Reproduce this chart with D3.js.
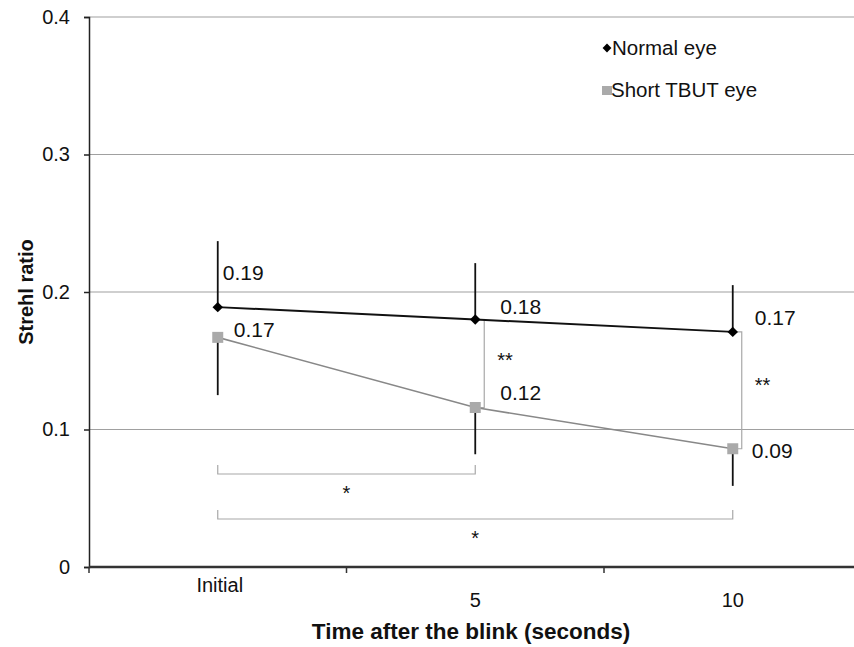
<!DOCTYPE html>
<html><head><meta charset="utf-8">
<script src="https://cdn.jsdelivr.net/npm/d3@7"></script>
<style>body{margin:0;background:#fff}svg{display:block}text{font-family:"Liberation Sans",Arial,sans-serif}</style>
</head><body>
<svg id="c" width="854" height="647"></svg>
<script>
const categories = ["Initial", "5", "10"];
const normalMean = [0.189, 0.180, 0.171];
const normalUpper = [0.237, 0.221, 0.205];
const shortMean = [0.167, 0.116, 0.086];
const shortLower = [0.125, 0.082, 0.059];
const normalLabels = ["0.19", "0.18", "0.17"];
const shortLabels = ["0.17", "0.12", "0.09"];
const yTicks = [0, 0.1, 0.2, 0.3, 0.4];

const svg = d3.select("#c");
const x = d3.scaleBand().domain(categories).range([89, 861.5]);
const y = d3.scaleLinear().domain([0, 0.4]).range([567, 17]);
const cx = d => x(d) + x.bandwidth() / 2;

// gridlines
svg.append("g").selectAll("line").data(yTicks.filter(t => t > 0)).join("line")
  .attr("x1", 89).attr("x2", 854).attr("y1", d => y(d)).attr("y2", d => y(d))
  .attr("stroke", "#a0a0a0").attr("stroke-width", 1.2);

// y axis
const ya = svg.append("g").attr("transform", "translate(89,0)")
  .call(d3.axisLeft(y).tickValues(yTicks).tickSize(5).tickPadding(14).tickFormat(d => d === 0 ? "0" : d3.format(".1f")(d)));
ya.select(".domain").attr("stroke", "#222").attr("stroke-width", 1.5);
ya.selectAll(".tick line").attr("stroke", "#222").attr("stroke-width", 1.5);
ya.selectAll("text").attr("font-size", 20).attr("fill", "#111");

// x axis
svg.append("line").attr("x1", 89).attr("x2", 854).attr("y1", y(0)).attr("y2", y(0))
  .attr("stroke", "#333").attr("stroke-width", 2.5);
svg.append("g").selectAll("line").data(categories).join("line")
  .attr("x1", d => x(d)).attr("x2", d => x(d)).attr("y1", y(0)).attr("y2", y(0) + 6)
  .attr("stroke", "#333").attr("stroke-width", 1.5);
svg.append("g").selectAll("text").data(categories).join("text")
  .attr("x", d => cx(d) + (d === "Initial" ? 2 : 0))
  .attr("y", d => d === "Initial" ? 592 : 607)
  .attr("text-anchor", "middle").attr("font-size", 20).attr("fill", "#111")
  .text(d => d);

// titles
svg.append("text").attr("x", 471).attr("y", 639).attr("text-anchor", "middle")
  .attr("font-size", 22.5).attr("font-weight", "bold").attr("fill", "#111")
  .text("Time after the blink (seconds)");
svg.append("text").attr("transform", "translate(33,292) rotate(-90)").attr("text-anchor", "middle")
  .attr("font-size", 20).attr("font-weight", "bold").attr("fill", "#111")
  .text("Strehl ratio");

// significance brackets (vertical)
const br = svg.append("g").attr("fill", "none").attr("stroke", "#a8a8a8").attr("stroke-width", 1.2);
const starY = [0, 365, 390];
[1, 2].forEach(i => {
  const xx = cx(categories[i]) + 9;
  br.append("path").attr("d", `M${cx(categories[i])},${y(normalMean[i])}H${xx}V${y(shortMean[i])}H${cx(categories[i])}`);
  svg.append("text").attr("x", xx + 13).attr("y", starY[i] + 2)
    .attr("font-size", 20).attr("fill", "#111").text("**");
});
// horizontal brackets
const hb = [[0, 1, 474], [0, 2, 519]];
hb.forEach(([a, b, yy]) => {
  br.append("path").attr("d", `M${cx(categories[a])},${yy - 9}V${yy}H${cx(categories[b])}V${yy - 9}`);
  svg.append("text").attr("x", (cx(categories[a]) + cx(categories[b])) / 2).attr("y", yy + 26)
    .attr("text-anchor", "middle").attr("font-size", 20).attr("fill", "#111").text("*");
});

// error bars
svg.append("g").selectAll("line").data(categories).join("line")
  .attr("x1", d => cx(d)).attr("x2", d => cx(d))
  .attr("y1", (d, i) => y(normalUpper[i])).attr("y2", (d, i) => y(normalMean[i]))
  .attr("stroke", "#111").attr("stroke-width", 1.8);
svg.append("g").selectAll("line").data(categories).join("line")
  .attr("x1", d => cx(d)).attr("x2", d => cx(d))
  .attr("y1", (d, i) => y(shortLower[i])).attr("y2", (d, i) => y(shortMean[i]))
  .attr("stroke", "#111").attr("stroke-width", 1.8);

// lines
const line = d3.line().x((d, i) => cx(categories[i])).y(d => y(d));
svg.append("path").datum(shortMean).attr("d", line).attr("fill", "none").attr("stroke", "#888").attr("stroke-width", 1.6);
svg.append("path").datum(normalMean).attr("d", line).attr("fill", "none").attr("stroke", "#111").attr("stroke-width", 2);

// markers
svg.append("g").selectAll("rect").data(shortMean).join("rect")
  .attr("x", (d, i) => cx(categories[i]) - 5.5).attr("y", d => y(d) - 5.5)
  .attr("width", 11).attr("height", 11).attr("fill", "#aaaaaa");
const diamond = d3.symbol().type(d3.symbolDiamond2).size(70);
svg.append("g").selectAll("path").data(normalMean).join("path")
  .attr("transform", (d, i) => `translate(${cx(categories[i])},${y(d)})`)
  .attr("d", diamond).attr("fill", "#000");

// data labels (dx, baseline offset from point)
const nOff = [[5, -27], [25, -5.5], [22, -7]];
const sOff = [[16, 0], [25, -7.5], [19, 9]];
svg.append("g").selectAll("text").data(normalLabels).join("text")
  .attr("x", (d, i) => cx(categories[i]) + nOff[i][0])
  .attr("y", (d, i) => y(normalMean[i]) + nOff[i][1])
  .attr("font-size", 21).attr("fill", "#111").text(d => d);
svg.append("g").selectAll("text").data(shortLabels).join("text")
  .attr("x", (d, i) => cx(categories[i]) + sOff[i][0])
  .attr("y", (d, i) => y(shortMean[i]) + sOff[i][1])
  .attr("font-size", 21).attr("fill", "#111").text(d => d);

// legend
const lg = svg.append("g");
lg.append("path").attr("transform", "translate(607,48)").attr("d", d3.symbol().type(d3.symbolDiamond2).size(50)).attr("fill", "#000");
lg.append("text").attr("x", 612).attr("y", 55).attr("font-size", 20.5).attr("fill", "#111").text("Normal eye");
lg.append("rect").attr("x", 602).attr("y", 86).attr("width", 10).attr("height", 9).attr("fill", "#aaaaaa");
lg.append("text").attr("x", 611).attr("y", 97).attr("font-size", 20.5).attr("fill", "#111").text("Short TBUT eye");
</script>
</body></html>
